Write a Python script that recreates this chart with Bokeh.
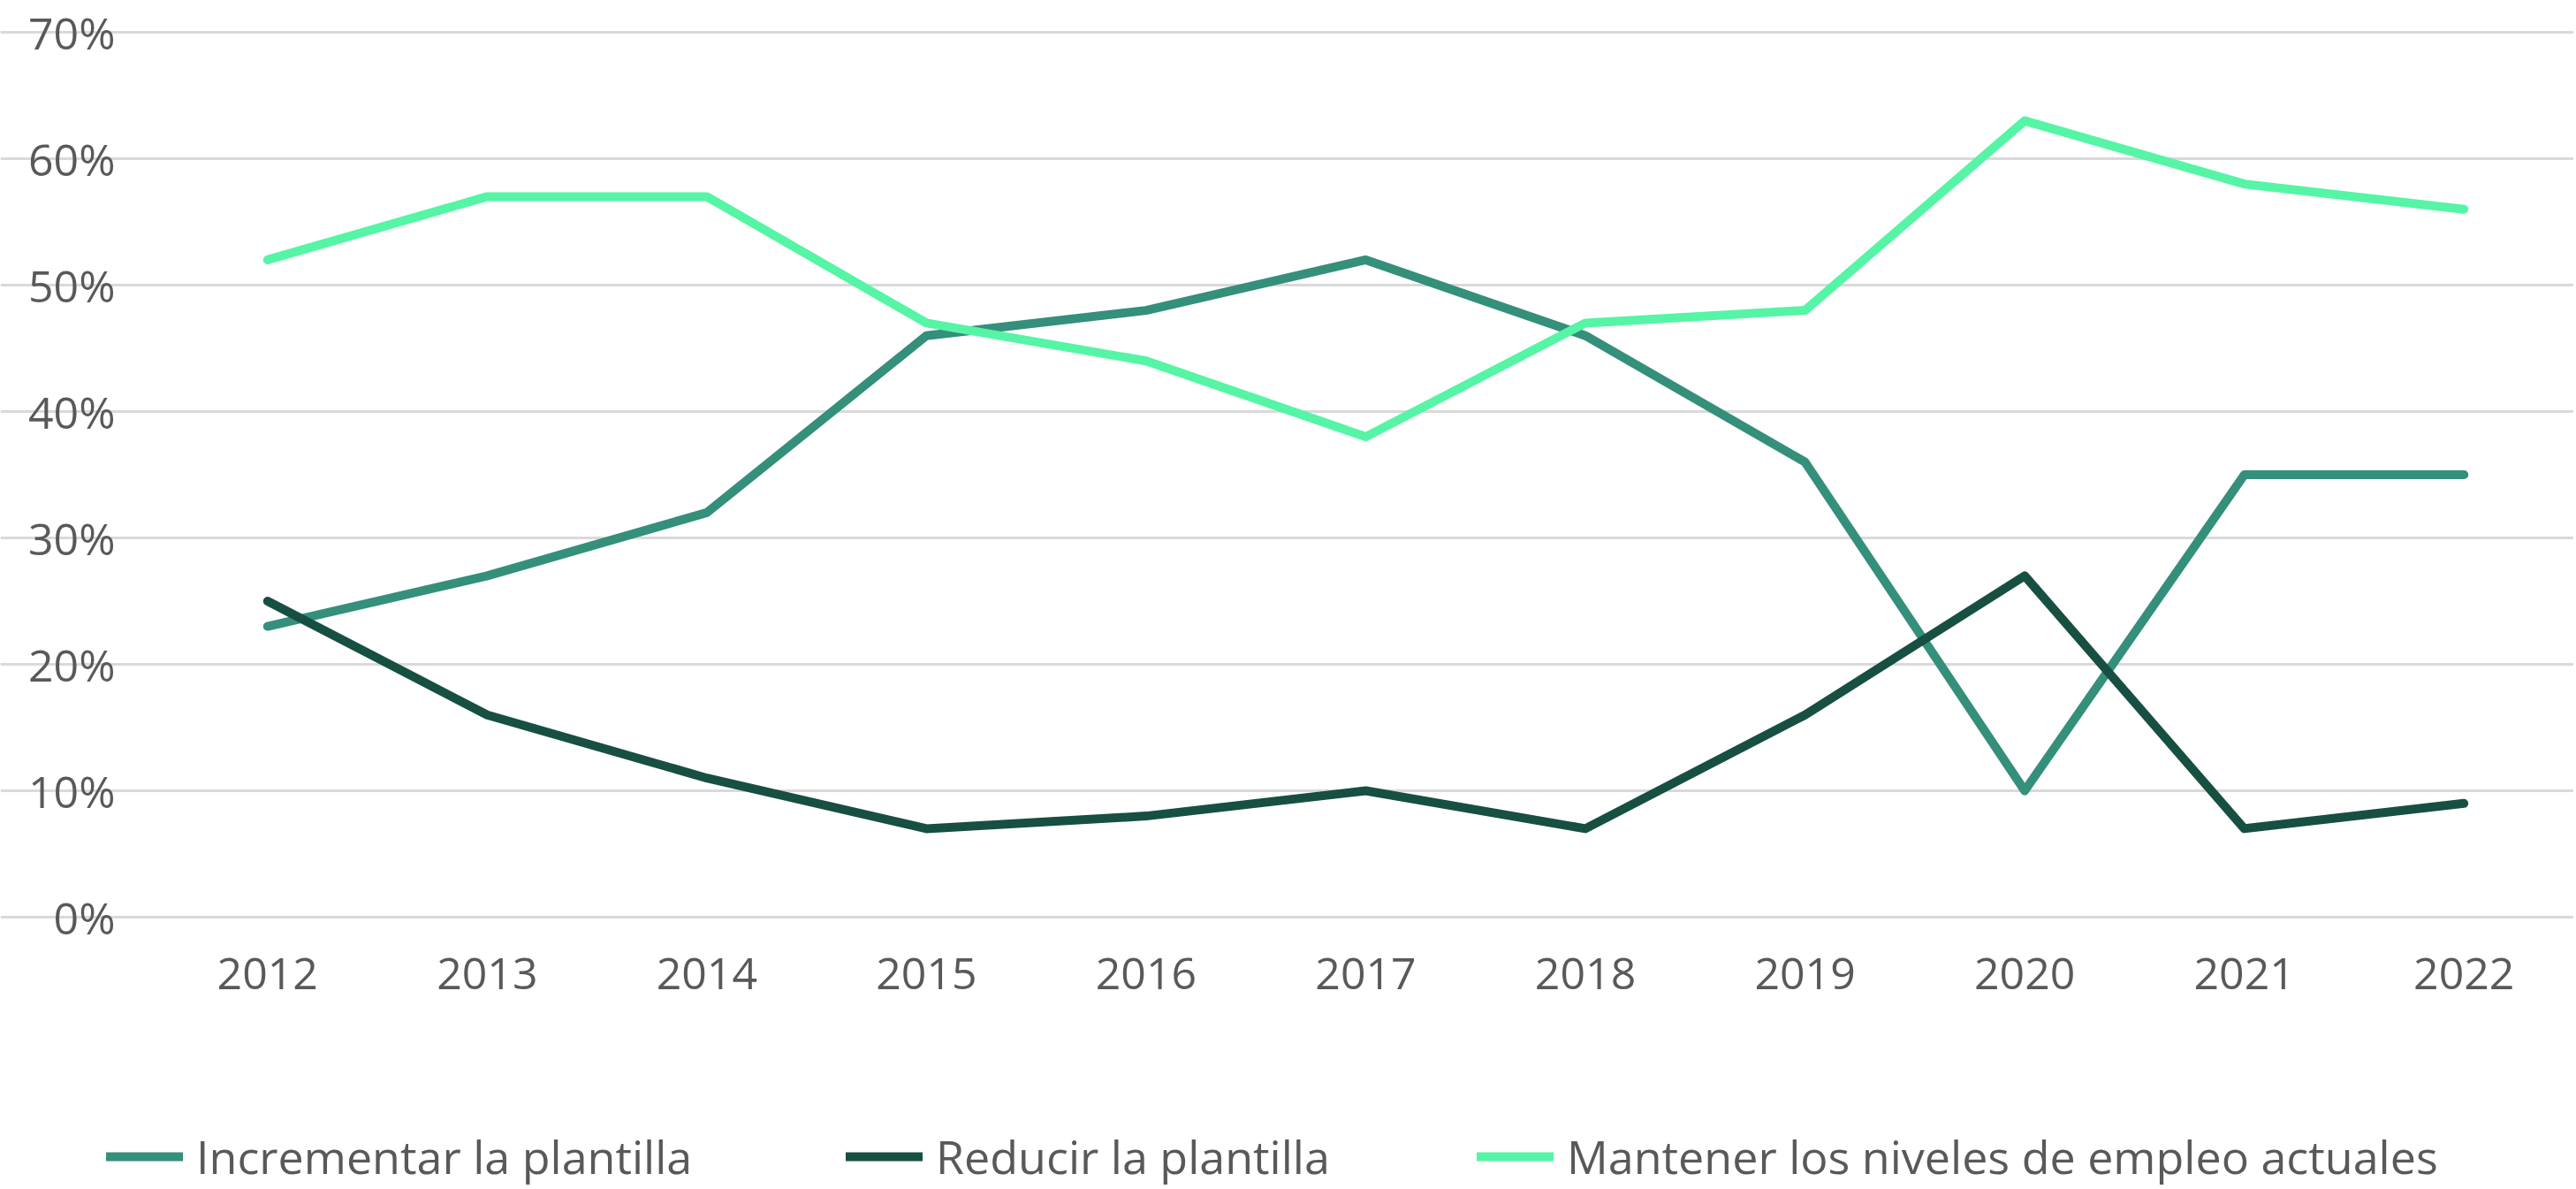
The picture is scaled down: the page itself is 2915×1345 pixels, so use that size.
from bokeh.plotting import figure
from bokeh.models import (Range1d, FixedTicker, NumeralTickFormatter, Legend, LegendItem)
from bokeh.embed import file_html
from bokeh.resources import INLINE

years = [2012, 2013, 2014, 2015, 2016, 2017, 2018, 2019, 2020, 2021, 2022]
incrementar = [23, 27, 32, 46, 48, 52, 46, 36, 10, 35, 35]
reducir = [25, 16, 11, 7, 8, 10, 7, 16, 27, 7, 9]
mantener = [52, 57, 57, 47, 44, 38, 47, 48, 63, 58, 56]
y_ticks = [0, 10, 20, 30, 40, 50, 60, 70]

series = [
    ("Incrementar la plantilla", incrementar, "#348F7B"),
    ("Reducir la plantilla", reducir, "#174F42"),
    ("Mantener los niveles de empleo actuales", mantener, "#55F5A5"),
]

FONT = "Open Sans"
TXT = "#595959"

W, H = 2912, 1343
# pixel geometry of the plotting area (frame covers whole canvas; axes fixed inside)
X_LEFT_PX, Y0_PX, Y70_PX = 178, 1037, 36
px_per_year = (W - X_LEFT_PX) / 11.0
px_per_unit = (Y0_PX - Y70_PX) / 0.7
x_start = years[0] - 0.5 - X_LEFT_PX / px_per_year
x_end = years[-1] + 0.5
y_end = 0.7 + Y70_PX / px_per_unit
y_start = -(H - Y0_PX) / px_per_unit

p = figure(width=W, height=H, x_range=Range1d(x_start, x_end),
           y_range=Range1d(y_start, y_end), output_backend="svg", toolbar_location=None,
           min_border=0)
p.outline_line_color = None
p.background_fill_color = "white"
p.border_fill_color = "white"

p.xgrid.grid_line_color = None
p.ygrid.grid_line_color = "#D9D9D9"
p.ygrid.grid_line_width = 3
p.ygrid.bounds = (years[0] - 0.5, years[-1] + 0.5)

p.xaxis.ticker = FixedTicker(ticks=years)
p.yaxis.ticker = FixedTicker(ticks=[t / 100 for t in y_ticks])
p.yaxis.formatter = NumeralTickFormatter(format="0%")
p.xaxis.fixed_location = 0
p.yaxis.fixed_location = years[0] - 0.5
for ax in (p.xaxis[0], p.yaxis[0]):
    ax.axis_line_color = None
    ax.major_tick_line_color = None
    ax.minor_tick_line_color = None
    ax.major_tick_in = 0
    ax.major_tick_out = 0
    ax.minor_tick_out = 0
    ax.major_label_text_font = FONT
    ax.major_label_text_font_size = "50px"
    ax.major_label_text_color = TXT
p.yaxis.major_label_standoff = 48
p.xaxis.major_label_standoff = 46

renderers = []
for name, vals, color in series:
    r = p.line(years, [v / 100 for v in vals], line_color=color, line_width=10,
               line_cap="round", line_join="round")
    renderers.append((name, r))

legend_x = [120, 957, 1671]
for (name, r), lx in zip(renderers, legend_x):
    lg = Legend(items=[LegendItem(label=name, renderers=[r])], location=(lx, 0),
                orientation="horizontal", background_fill_alpha=0, border_line_alpha=0,
                padding=0, margin=0, glyph_width=87, glyph_height=12, label_standoff=15,
                spacing=0, label_text_font=FONT, label_text_font_size="52px",
                label_text_color=TXT)
    p.add_layout(lg, "center")

open("out.html", "w").write(file_html(p, INLINE))
